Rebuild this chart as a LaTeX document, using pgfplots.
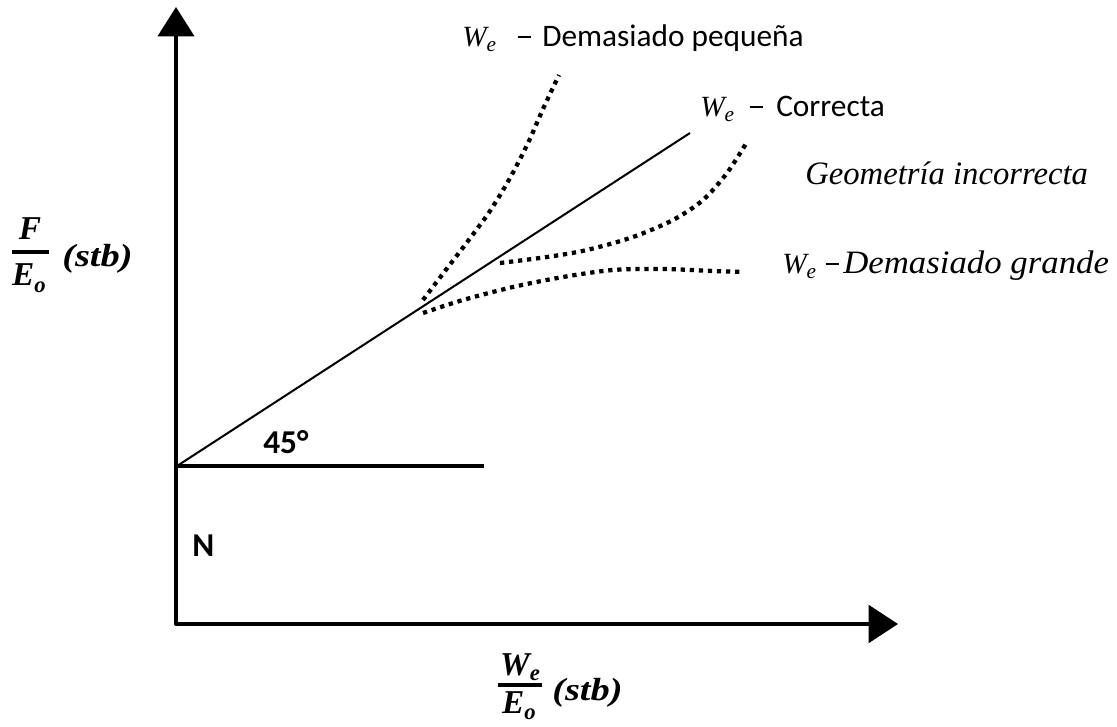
\documentclass[border=0pt]{standalone}
\usepackage{pgfplots}
\pgfplotsset{compat=1.18}
\usetikzlibrary{arrows.meta}
\usepackage{fontspec}
\setmainfont{Carlito}
\newfontfamily\serif{Liberation Serif}
\newcommand\We{{\serif\itshape W}\raisebox{-0.35ex}{\fontsize{16}{16}\selectfont\serif\itshape e}}
\newcommand\Web{{\serif\bfseries\itshape W}\raisebox{-0.35ex}{\fontsize{17}{17}\selectfont\serif\bfseries\itshape e}}
\newcommand\Eob{{\serif\bfseries\itshape E}\raisebox{-0.4ex}{\fontsize{17}{17}\selectfont\serif\bfseries\itshape o}}
\newcommand\mminus{\rule[7pt]{9.5pt}{1.2pt}}
\begin{document}
\begin{tikzpicture}
\begin{axis}[width=837.75pt,height=544.5pt,scale only axis,
  xmin=0,xmax=1117,ymin=0,ymax=726,hide axis,clip=false]
% axes
\addplot[black,line width=3pt,line join=round,
  {Triangle[length=22pt,width=27pt]}-{Triangle[length=22pt,width=28pt]}]
  coordinates {(176,719) (176,102) (898,102)};
% N line
\addplot[black,line width=3pt] coordinates {(176,260) (484,260)};
% correct line
\addplot[black,line width=1.5pt] coordinates {(177,260) (690,593)};
% We too small
\addplot[black,line width=3.2pt,dash pattern=on 3.2pt off 3.6pt,smooth]
  coordinates {(423,426) (445,455) (468,485) (490,515) (510,548) (528,583) (543,617) (559,651)};
% geometry wrong
\addplot[black,line width=3.2pt,dash pattern=on 3.2pt off 3.6pt,smooth]
  coordinates {(500,463) (547,469) (587,476) (633,489) (673,506) (703,526) (727,553) (747,584)};
% We too large
\addplot[black,line width=3.2pt,dash pattern=on 3.2pt off 3.6pt,smooth]
  coordinates {(423,413) (463,426) (513,439) (563,449) (613,456) (663,457) (713,455) (743,454)};
% labels
\begin{scope}[every node/.style={inner sep=0pt,anchor=base west}]
\node[font=\fontsize{22}{26}\selectfont] at (axis cs:462,679) {\We};
\node at (axis cs:518,679) {\mminus};
\node[font=\fontsize{23.5}{28}\selectfont] at (axis cs:542,679) {Demasiado pequeña};
\node[font=\fontsize{22}{26}\selectfont] at (axis cs:700,609) {\We};
\node at (axis cs:750,609) {\mminus};
\node[font=\fontsize{23.5}{28}\selectfont] at (axis cs:776,609) {Correcta};
\node[font=\fontsize{24.5}{28}\selectfont\serif\itshape] at (axis cs:805,541) {Geometría incorrecta};
\node[font=\fontsize{22}{26}\selectfont] at (axis cs:782,452) {\We};
\node at (axis cs:826,452) {\mminus};
\node[font=\fontsize{24.5}{28}\selectfont\serif\itshape] at (axis cs:843,452) {\scalebox{1.065}[1]{Demasiado grande}};
\node[font=\fontsize{25}{28}\selectfont\bfseries] at (axis cs:263,273) {45°};
\node[font=\fontsize{25}{28}\selectfont\bfseries] at (axis cs:192,170) {N};
% y label
\node[anchor=base,font=\fontsize{25}{28}\selectfont\serif\bfseries\itshape] at (axis cs:30,486) {F};
\node[anchor=base,font=\fontsize{25}{28}\selectfont] at (axis cs:29,440) {\Eob};
\node[font=\fontsize{24}{28}\selectfont\serif\bfseries\itshape] at (axis cs:62,459) {\scalebox{1.2}[1]{(stb)}};
% x label
\node[anchor=base,font=\fontsize{25}{28}\selectfont] at (axis cs:520,51) {\Web};
\node[anchor=base,font=\fontsize{25}{28}\selectfont] at (axis cs:519,13) {\Eob};
\node[font=\fontsize{24}{28}\selectfont\serif\bfseries\itshape] at (axis cs:552,26) {\scalebox{1.2}[1]{(stb)}};
\end{scope}
% fraction bars
\addplot[black,line width=3pt] coordinates {(12,474) (49,474)};
\addplot[black,line width=3pt] coordinates {(498,41) (542,41)};
\end{axis}
\pgfresetboundingbox
\useasboundingbox (current axis.south west) rectangle (current axis.north east);
\end{tikzpicture}
\end{document}
